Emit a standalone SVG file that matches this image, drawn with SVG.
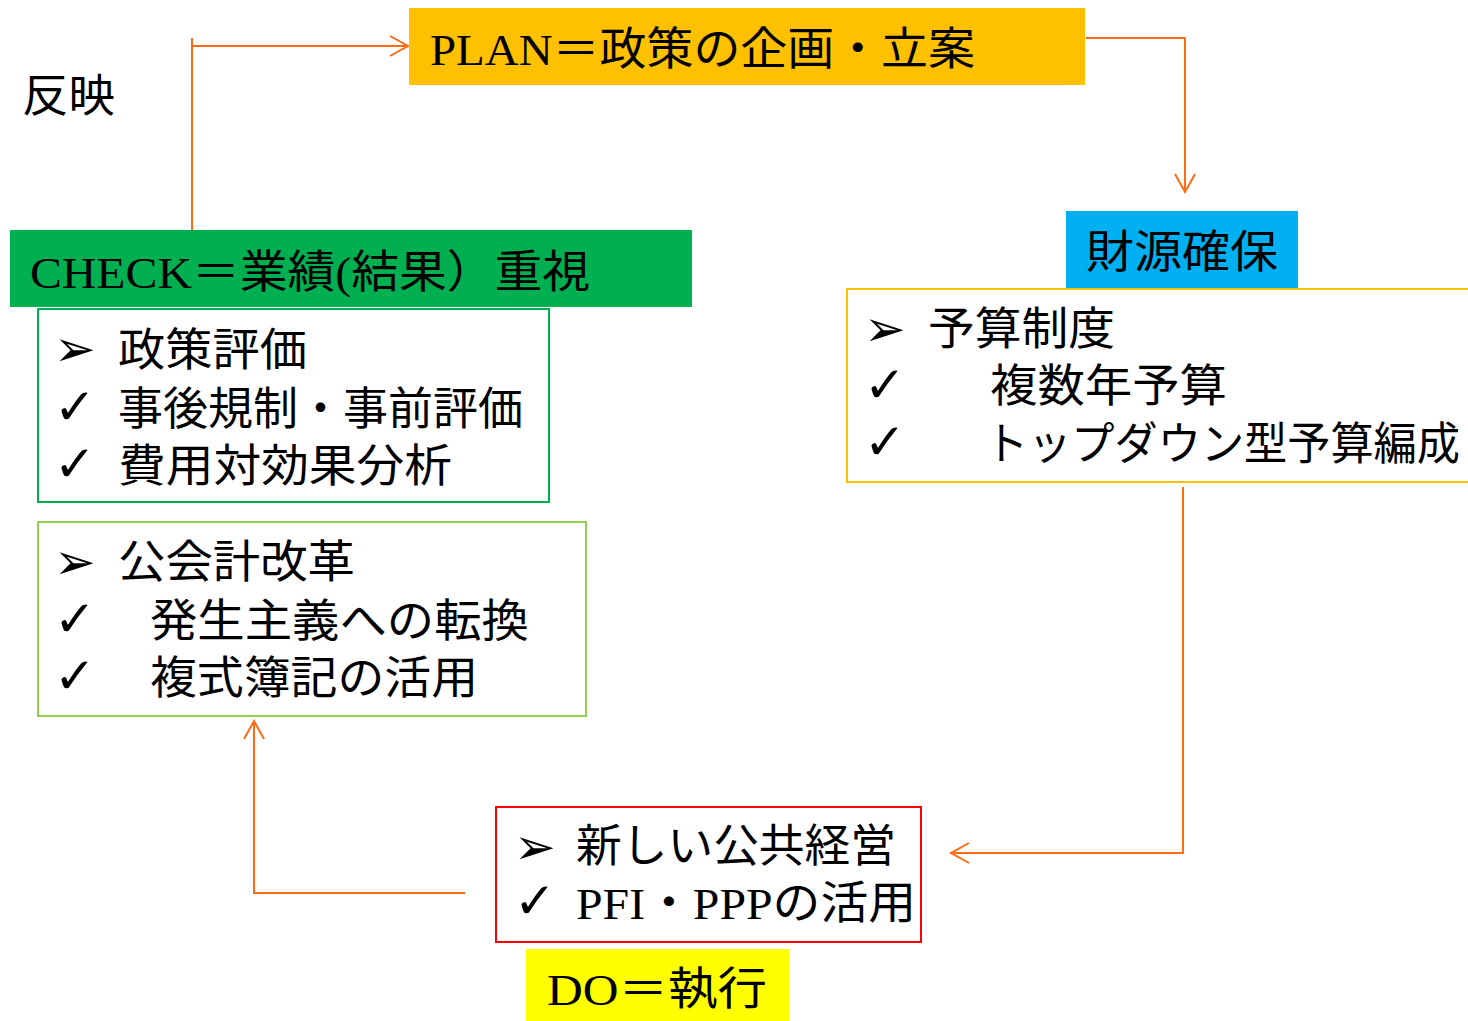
<svg xmlns="http://www.w3.org/2000/svg" width="1468" height="1021" viewBox="0 0 1468 1021">
<style>
.t{font-family:"Liberation Serif","Noto Sans CJK JP",serif;font-size:45px;fill:#000}
.b{font-family:"DejaVu Sans","Noto Sans CJK JP",sans-serif;font-size:50px;font-weight:bold;fill:#000}
.c{fill:none;stroke:#FF6A13;stroke-width:2}
</style>
<defs>
<marker id="ah" markerUnits="userSpaceOnUse" markerWidth="24" markerHeight="24" refX="19" refY="11" orient="auto">
<path d="M1,1 L19,11 L1,21" fill="none" stroke="#FF6A13" stroke-width="2"/>
</marker>
</defs>
<rect width="1468" height="1021" fill="#fff"/>
<g id="connectors">
<path class="c" d="M192,230 V38 M192,46 H408" marker-end="url(#ah)"/>
<path class="c" d="M1086,38 H1185 V192" marker-end="url(#ah)"/>
<path class="c" d="M1183,487 V853 H951" marker-end="url(#ah)"/>
<path class="c" d="M465,893 H254 V721" marker-end="url(#ah)"/>
</g>
<g id="label-hanei"><text class="t" x="22" y="112" textLength="93" lengthAdjust="spacingAndGlyphs">反映</text></g>
<g id="plan">
<rect x="409" y="8" width="676" height="77" fill="#FFC000"/>
<text class="t" x="430" y="65" textLength="545" lengthAdjust="spacingAndGlyphs">PLAN＝政策の企画・立案</text>
</g>
<g id="zaigen">
<rect x="1066" y="211" width="232" height="77" fill="#00B0F0"/>
<text class="t" x="1086" y="268" textLength="192" lengthAdjust="spacingAndGlyphs">財源確保</text>
</g>
<g id="budget">
<rect x="847" y="289" width="625" height="193" fill="none" stroke="#FFC000" stroke-width="2"/>
<text class="b" x="864" y="346">➢</text>
<text class="t" x="928" y="345" textLength="187" lengthAdjust="spacingAndGlyphs">予算制度</text>
<text class="b" x="864" y="402">✓</text>
<text class="t" x="990" y="402" textLength="237" lengthAdjust="spacingAndGlyphs">複数年予算</text>
<text class="b" x="864" y="459">✓</text>
<text class="t" x="985" y="460" textLength="475" lengthAdjust="spacingAndGlyphs">トップダウン型予算編成</text>
</g>
<g id="check">
<rect x="10" y="230" width="682" height="77" fill="#00B050"/>
<text class="t" x="30" y="288" textLength="560" lengthAdjust="spacingAndGlyphs">CHECK＝業績(結果）重視</text>
</g>
<g id="eval">
<rect x="38" y="309" width="511" height="193" fill="none" stroke="#00B050" stroke-width="2"/>
<text class="b" x="54" y="366">➢</text>
<text class="t" x="118" y="366" textLength="189" lengthAdjust="spacingAndGlyphs">政策評価</text>
<text class="b" x="54" y="424">✓</text>
<text class="t" x="118" y="425" textLength="405" lengthAdjust="spacingAndGlyphs">事後規制・事前評価</text>
<text class="b" x="54" y="481">✓</text>
<text class="t" x="118" y="482" textLength="334" lengthAdjust="spacingAndGlyphs">費用対効果分析</text>
</g>
<g id="accounting">
<rect x="38" y="522" width="548" height="194" fill="none" stroke="#92D050" stroke-width="2"/>
<text class="b" x="54" y="579">➢</text>
<text class="t" x="118" y="578" textLength="237" lengthAdjust="spacingAndGlyphs">公会計改革</text>
<text class="b" x="54" y="636">✓</text>
<text class="t" x="150" y="637" textLength="379" lengthAdjust="spacingAndGlyphs">発生主義への転換</text>
<text class="b" x="54" y="693">✓</text>
<text class="t" x="150" y="694" textLength="328" lengthAdjust="spacingAndGlyphs">複式簿記の活用</text>
</g>
<g id="do-items">
<rect x="496" y="807" width="425" height="135" fill="none" stroke="#FF0000" stroke-width="2"/>
<text class="b" x="514" y="864">➢</text>
<text class="t" x="576" y="862" textLength="320" lengthAdjust="spacingAndGlyphs">新しい公共経営</text>
<text class="b" x="514" y="918">✓</text>
<text class="t" x="576" y="919" textLength="340" lengthAdjust="spacingAndGlyphs">PFI・PPPの活用</text>
</g>
<g id="do">
<rect x="526" y="949" width="263" height="72" fill="#FFFF00"/>
<text class="t" x="547" y="1005" textLength="220" lengthAdjust="spacingAndGlyphs">DO＝執行</text>
</g>
</svg>
